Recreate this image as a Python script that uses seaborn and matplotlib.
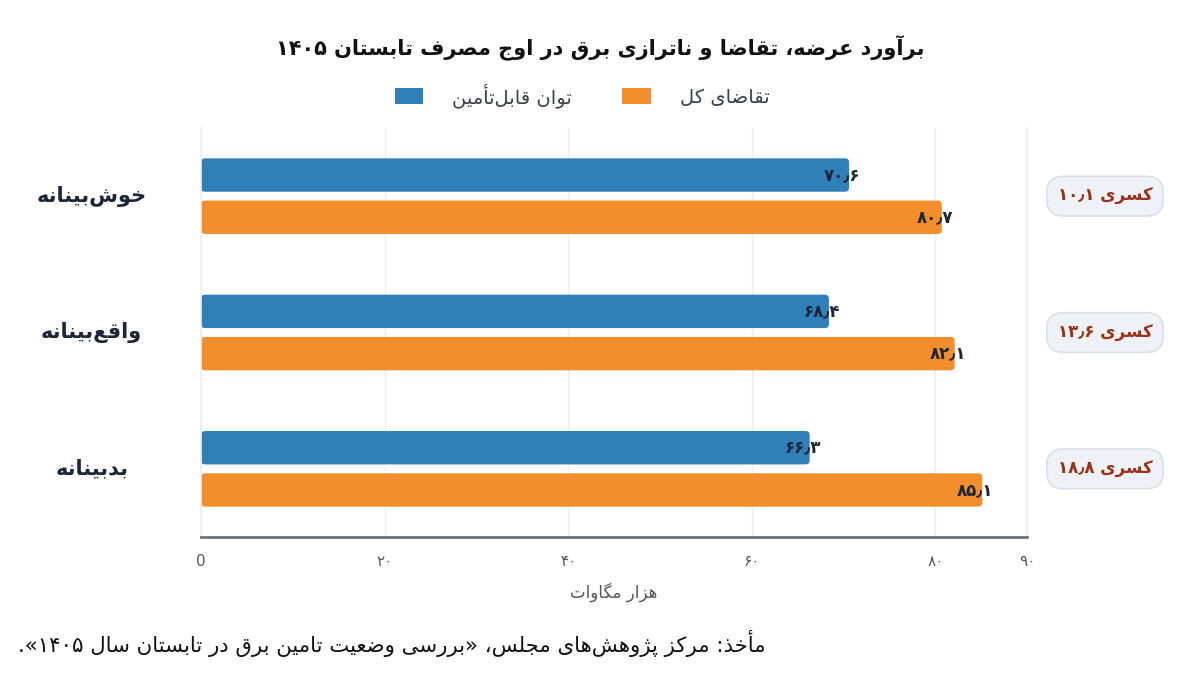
import re
import matplotlib
matplotlib.use("Agg")
import matplotlib.pyplot as plt
from matplotlib.patches import FancyBboxPatch, Patch
import pandas as pd
import seaborn as sns

sns.set_theme(style="white")
plt.rcParams["font.family"] = ["DejaVu Sans"]

# data
scenarios = ["خوش‌بینانه", "واقع‌بینانه", "بدبینانه"]
series = ["توان قابل‌تأمین", "تقاضای کل"]
supply = [70.6, 68.4, 66.3]
demand = [80.7, 82.1, 85.1]
deficit = [10.1, 13.6, 18.8]
xticks = [0, 20, 40, 60, 80, 90]

title = "برآورد عرضه، تقاضا و ناترازی برق در اوج مصرف تابستان ۱۴۰۵"
xlabel = "هزار مگاوات"
source = "مأخذ: مرکز پژوهش‌های مجلس، «بررسی وضعیت تامین برق در تابستان سال ۱۴۰۵»."
deficit_word = "کسری"

colors = ["#2f7fb8", "#f28f2c"]

# --- minimal persian shaping + rtl ordering (no arabic_reshaper here) ---
FORMS = {0x0621: (0xFE80, 1), 0x0622: (0xFE81, 2), 0x0623: (0xFE83, 2), 0x0624: (0xFE85, 2),
         0x0625: (0xFE87, 2), 0x0626: (0xFE89, 4), 0x0627: (0xFE8D, 2), 0x0628: (0xFE8F, 4),
         0x0629: (0xFE93, 2), 0x062A: (0xFE95, 4), 0x062B: (0xFE99, 4), 0x062C: (0xFE9D, 4),
         0x062D: (0xFEA1, 4), 0x062E: (0xFEA5, 4), 0x062F: (0xFEA9, 2), 0x0630: (0xFEAB, 2),
         0x0631: (0xFEAD, 2), 0x0632: (0xFEAF, 2), 0x0633: (0xFEB1, 4), 0x0634: (0xFEB5, 4),
         0x0635: (0xFEB9, 4), 0x0636: (0xFEBD, 4), 0x0637: (0xFEC1, 4), 0x0638: (0xFEC5, 4),
         0x0639: (0xFEC9, 4), 0x063A: (0xFECD, 4), 0x0641: (0xFED1, 4), 0x0642: (0xFED5, 4),
         0x0643: (0xFED9, 4), 0x0644: (0xFEDD, 4), 0x0645: (0xFEE1, 4), 0x0646: (0xFEE5, 4),
         0x0647: (0xFEE9, 4), 0x0648: (0xFEED, 2), 0x0649: (0xFEEF, 2), 0x064A: (0xFEF1, 4),
         0x067E: (0xFB56, 4), 0x0686: (0xFB7A, 4), 0x0698: (0xFB8A, 2), 0x06A9: (0xFB8E, 4),
         0x06AF: (0xFB92, 4), 0x06CC: (0xFBFC, 4)}
MIRROR = {"«": "»", "»": "«", "(": ")", ")": "("}


def shape(s):
    out = []
    for i, c in enumerate(s):
        cp = ord(c)
        if cp not in FORMS:
            if c != "\u200c":
                out.append(c)
            continue
        base, k = FORMS[cp]
        prev = ord(s[i - 1]) if i > 0 else None
        nxt = ord(s[i + 1]) if i < len(s) - 1 else None
        jp = prev in FORMS and FORMS[prev][1] == 4
        jn = k == 4 and nxt in FORMS and FORMS[nxt][1] > 1
        if k == 1:
            f = base
        elif jp and jn:
            f = base + 3
        elif jp:
            f = base + 1
        elif jn:
            f = base + 2
        else:
            f = base
        out.append(chr(f))
    return "".join(out)


def fa(s):
    tokens = re.findall(r"[0-9\u06F0-\u06F9\u066B]+|[^0-9\u06F0-\u06F9\u066B]+", shape(s))
    vis = []
    for t in reversed(tokens):
        if re.match(r"[0-9\u06F0-\u06F9]", t):
            vis.append(t)
        else:
            vis.append("".join(MIRROR.get(c, c) for c in reversed(t)))
    return "".join(vis)


def fa_num(v, fmt="{:.1f}"):
    return fmt.format(v).translate(str.maketrans("0123456789.", "۰۱۲۳۴۵۶۷۸۹\u066B"))


df = pd.DataFrame({
    "scenario": scenarios * 2,
    "series": [series[0]] * 3 + [series[1]] * 3,
    "value": supply + demand,
})

fig = plt.figure(figsize=(12, 6.75), dpi=100)
fig.subplots_adjust(left=0.1675, right=0.856, bottom=0.2044, top=0.8104)
ax = fig.add_subplot(111)

sns.barplot(data=df, y="scenario", x="value", hue="series", hue_order=series,
            palette=colors, orient="h", width=0.62, gap=0.21, legend=False,
            saturation=1, ax=ax)

ax.set_xlim(0, 90)
ax.set_ylim(2.5, -0.5)
ax.set_xticks(xticks)
ax.set_xticklabels([fa_num(t, "{:d}") if t else "0" for t in xticks],
                   fontsize=11, color="#555555")
ax.set_yticks(range(len(scenarios)))
ax.set_yticklabels([])
ax.set_ylabel("")
ax.set_xlabel(fa(xlabel), fontsize=12, color="#555555", labelpad=10)
ax.tick_params(axis="x", length=0, pad=12)
ax.tick_params(axis="y", length=0)
ax.grid(axis="x", color="#eeeeee", linewidth=1)
ax.set_axisbelow(True)
for side in ["left", "right"]:
    ax.spines[side].set_color("#eceef1")
    ax.spines[side].set_linewidth(1.2)
ax.spines["top"].set_visible(False)
ax.spines["bottom"].set_color("#6b7480")
ax.spines["bottom"].set_linewidth(2)

# rounded bars + value labels
bbox_ax = ax.get_window_extent()
xpx = bbox_ax.width / 90
ypx = bbox_ax.height / 3
for p in list(ax.patches):
    x0, y0, w, h = p.get_x(), p.get_y(), p.get_width(), p.get_height()
    fc = p.get_facecolor()
    p.remove()
    ax.add_patch(FancyBboxPatch((x0, y0), w, h, boxstyle="round,pad=0,rounding_size=0.45",
                                mutation_aspect=xpx / ypx, fc=fc, ec="none", zorder=2))
    ax.annotate(fa_num(w), xy=(w, y0 + h / 2), xytext=(8, 0), textcoords="offset points",
                ha="right", va="center", fontsize=12, fontweight="bold", color="#1c2636",
                zorder=3)

# scenario labels on the left, deficit pills on the right
for i, name in enumerate(scenarios):
    ax.annotate(fa(name), xy=(0, i), xycoords=("figure fraction", "data"),
                xytext=(66, 0), textcoords="offset points", ha="center", va="center",
                fontsize=15, fontweight="bold", color="#1c2636")
    ax.annotate(fa(deficit_word + " " + fa_num(deficit[i])), xy=(1, i),
                xycoords=("axes fraction", "data"), xytext=(56, 0),
                textcoords="offset points", ha="center", va="center", fontsize=12,
                fontweight="bold", color="#9c2f14",
                bbox=dict(boxstyle="round,pad=0.65,rounding_size=1.0", fc="#eef2f7",
                          ec="#d9e0e8", lw=1.2))

fig.text(0.5, 0.929, fa(title), ha="center", va="center", fontsize=15,
         fontweight="bold", color="#111111")

handles = [Patch(facecolor=c, edgecolor="none") for c in colors]
fig.legend(handles, [fa(s) for s in series], loc="center", bbox_to_anchor=(0.485, 0.859),
           ncol=2, frameon=False, handlelength=1.45, handleheight=0.85, handletextpad=1.5,
           columnspacing=2.6, fontsize=14, labelcolor="#3a3f47")

fig.text(0.015, 0.047, fa(source), ha="left", va="center", fontsize=15.3, color="#111111")

fig.savefig("out.png", dpi=100)
